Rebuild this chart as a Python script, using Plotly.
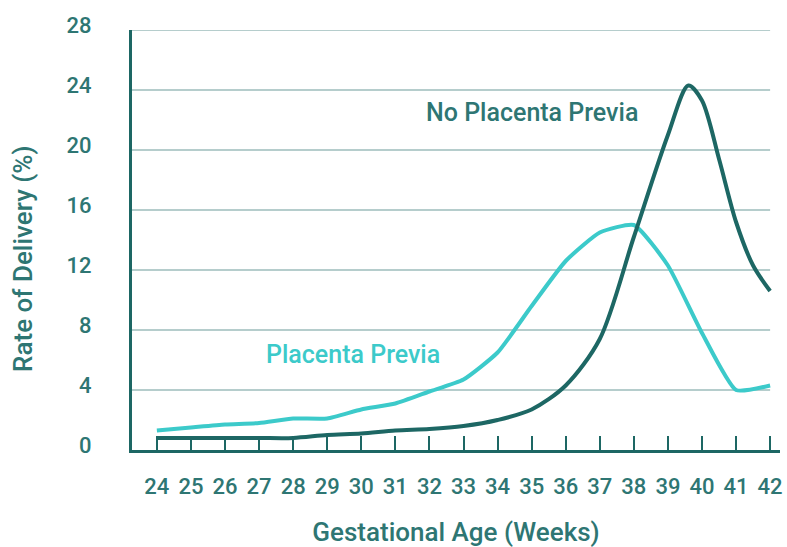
import plotly.graph_objects as go

# Data
weeks_previa = [24, 25, 26, 27, 28, 29, 30, 31, 32, 33, 34, 35, 36, 37, 38, 39, 40, 41, 42]
rate_previa = [1.3, 1.5, 1.7, 1.8, 2.1, 2.1, 2.7, 3.1, 3.9, 4.7, 6.5, 9.6, 12.6, 14.5, 15.0, 12.3, 7.8, 4.0, 4.3]

weeks_no_previa = [24, 25, 26, 27, 28, 29, 30, 31, 32, 33, 34, 35, 36, 37, 38, 39, 39.6, 40, 40.5, 41, 41.5, 42]
rate_no_previa = [0.8, 0.8, 0.8, 0.8, 0.8, 1.0, 1.1, 1.3, 1.4, 1.6, 2.0, 2.7, 4.3, 7.4, 14.2, 21.0, 24.3, 23.3, 19.4, 15.2, 12.3, 10.6]

x_ticks = list(range(24, 43))
y_ticks = [0, 4, 8, 12, 16, 20, 24, 28]

DARK = "#1d6764"
LIGHT = "#3ccaca"
TEXT = "#2e7673"
GRID = "#9cbcbb"
FONT = "Roboto"

X_MIN, X_MAX = 23.27, 42.29

fig = go.Figure()

fig.add_trace(go.Scatter(
    x=weeks_previa, y=rate_previa, mode="lines",
    line=dict(color=LIGHT, width=4, shape="spline", smoothing=0.5),
    showlegend=False, hoverinfo="skip",
))
fig.add_trace(go.Scatter(
    x=weeks_no_previa, y=rate_no_previa, mode="lines",
    line=dict(color=DARK, width=4, shape="spline", smoothing=0.85),
    showlegend=False, hoverinfo="skip",
))

# horizontal gridlines (ending at the last week)
for v in y_ticks[1:]:
    fig.add_shape(type="line", xref="paper", yref="y", x0=0,
                  x1=(x_ticks[-1] - X_MIN) / (X_MAX - X_MIN),
                  y0=v, y1=v, line=dict(color=GRID, width=1.5), layer="below")

fig.add_annotation(x=35.0, y=22.5, text="No Placenta Previa", showarrow=False,
                   font=dict(family=FONT, size=25, color=TEXT, weight=500))
fig.add_annotation(x=29.75, y=6.35, text="Placenta Previa", showarrow=False,
                   font=dict(family=FONT, size=25, color=LIGHT, weight=500))
# y-axis title (sits a little below the plot centre in the reference)
fig.add_annotation(xref="paper", yref="paper", x=0, y=0.455, xshift=-126,
                   text="Rate of Delivery (%)", textangle=-90, showarrow=False,
                   font=dict(family=FONT, size=26, color=TEXT, weight=500))

fig.update_layout(
    width=787, height=547,
    margin=dict(l=132, r=7, t=30, b=97),
    plot_bgcolor="white", paper_bgcolor="white",
    font=dict(family=FONT, color=TEXT),
)

fig.update_xaxes(
    range=[X_MIN, X_MAX], automargin=False,
    tickvals=x_ticks, ticktext=[str(t) for t in x_ticks],
    ticks="inside", ticklen=14, tickwidth=1.5, tickcolor=DARK,
    showline=True, linecolor=DARK, linewidth=3,
    showgrid=False, zeroline=False,
    tickfont=dict(family=FONT, size=22, color=TEXT, weight=500),
    ticklabelstandoff=15,
    title=dict(text="Gestational Age (Weeks)", standoff=32,
               font=dict(family=FONT, size=26, color=TEXT, weight=500)),
)
fig.update_yaxes(
    range=[0, 28], automargin=False,
    tickvals=y_ticks, ticktext=[str(t) for t in y_ticks],
    ticks="", showline=True, linecolor=DARK, linewidth=3,
    showgrid=False, zeroline=False,
    tickfont=dict(family=FONT, size=22, color=TEXT, weight=500),
    ticklabelstandoff=33, ticklabelshift=-5,
)

fig.write_html("out.html", config={"displayModeBar": False},
               post_script="document.body.style.margin='0px';")
